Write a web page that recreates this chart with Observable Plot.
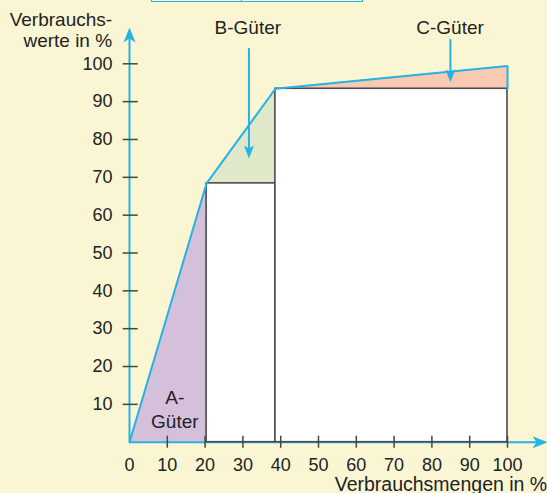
<!DOCTYPE html>
<html>
<head>
<meta charset="utf-8">
<script src="https://cdn.jsdelivr.net/npm/d3@7"></script>
<script src="https://cdn.jsdelivr.net/npm/@observablehq/plot@0.6"></script>
<style>
  html, body { margin: 0; padding: 0; background: #faf6d3; }
  #wrap { position: relative; width: 547px; height: 493px; overflow: hidden; background: #faf6d3; }
  #box { position: absolute; left: 151px; top: -8px; width: 210px; height: 8px; border: 1.5px solid #25b2e6; }
  #box div { position: absolute; left: 89px; top: 0; bottom: 0; border-left: 1.5px solid #25b2e6; }
</style>
</head>
<body>
<div id="wrap"><div id="box"><div></div></div></div>
<script>
// Cumulative ABC curve (Verbrauchsmengen %, Verbrauchswerte %)
const curveX = [0, 20.4, 38.6, 100];
const curveY = [0, 68.4, 93.4, 99.4];
// White bars (classes B and C bases)
const barX1 = [20.4, 38.6];
const barX2 = [38.6, 100];
const barTop = [68.4, 93.4];
const classNames = ["A-\nGüter", "B-Güter", "C-Güter"];
const classFill = ["#d5c0dc", "#dfe9c9", "#f9c9b1"];
const xTicks = [0, 10, 20, 30, 40, 50, 60, 70, 80, 90, 100];
const yTicks = [10, 20, 30, 40, 50, 60, 70, 80, 90, 100];
const xTitle = "Verbrauchsmengen in %";
const yTitle = "Verbrauchs-\nwerte in %";

const blue = "#25b2e6";
const ink = "#222";

// area segments between curve and the base below
const segs = [];
for (let i = 0; i < curveX.length - 1; i++) {
  const base = i === 0 ? 0 : barTop[i - 1];
  segs.push({cls: i, x: curveX[i], y1: base, y2: curveY[i]});
  segs.push({cls: i, x: curveX[i + 1], y1: base, y2: curveY[i + 1]});
}
const bars = barX1.map((d, i) => ({x1: d, x2: barX2[i], y1: 0, y2: barTop[i]}));
const linePts = curveX.map((d, i) => ({x: d, y: curveY[i]}));
linePts.push({x: curveX[curveX.length - 1], y: barTop[barTop.length - 1]});

function arrowSymbol(dir) {
  // tip at origin
  const pts = [[0, 0], [6, 15], [0, 11], [-6, 15]];
  const rot = {up: p => p, down: p => [p[0], -p[1]], right: p => [-p[1], p[0]]}[dir];
  return {
    draw(ctx) {
      const q = pts.map(rot);
      ctx.moveTo(q[0][0], q[0][1]);
      for (let k = 1; k < q.length; k++) ctx.lineTo(q[k][0], q[k][1]);
      ctx.closePath();
    }
  };
}
const smallArrow = dir => {
  const pts = [[0, 0], [5, 13], [0, 10], [-5, 13]];
  const rot = {up: p => p, down: p => [p[0], -p[1]]}[dir];
  return {draw(ctx) { const q = pts.map(rot); ctx.moveTo(q[0][0], q[0][1]); for (let k = 1; k < q.length; k++) ctx.lineTo(q[k][0], q[k][1]); ctx.closePath(); }};
};

const labelPos = [
  {x: 12.0, y: 8.9},
  {x: 31.3, y: 109.9},
  {x: 84.8, y: 109.9}
];
const pointers = [
  {x: 31.6, y1: 104, y2: 75},
  {x: 84.9, y1: 106.4, y2: 95.1}
];

const chart = Plot.plot({
  width: 547,
  height: 493,
  marginLeft: 129,
  marginRight: 40,
  marginTop: 63.3,
  marginBottom: 51.3,
  x: {domain: [0, 100]},
  y: {domain: [0, 100]},
  style: {background: "transparent", fontFamily: "'Liberation Sans', Arial, sans-serif", fontSize: "18px", color: ink, overflow: "visible"},
  marks: [
    Plot.areaY(segs, {x: "x", y1: "y1", y2: "y2", z: "cls", fill: d => classFill[d.cls], curve: "linear"}),
    // axis lines
    Plot.ruleY([0], {x1: 0, x2: 108, stroke: blue, strokeWidth: 2}),
    Plot.ruleX([0], {y1: 0, y2: 107, stroke: blue, strokeWidth: 2}),
    Plot.dot([{x: 110.6, y: 0}], {x: "x", y: "y", symbol: arrowSymbol("right"), fill: blue, stroke: null}),
    Plot.dot([{x: 0, y: 109.6}], {x: "x", y: "y", symbol: arrowSymbol("up"), fill: blue, stroke: null}),
    Plot.rect(bars, {x1: "x1", x2: "x2", y1: "y1", y2: "y2", fill: "white", stroke: "#4a4a4a", strokeWidth: 1.6}),
    Plot.line(linePts, {x: "x", y: "y", stroke: blue, strokeWidth: 2, strokeLinejoin: "miter"}),
    // pointers
    Plot.ruleX(pointers, {x: "x", y1: "y1", y2: d => d.y2 + 2, stroke: blue, strokeWidth: 2}),
    Plot.dot(pointers, {x: "x", y: "y2", symbol: smallArrow("down"), fill: blue, stroke: null}),
    // ticks
    Plot.axisX({ticks: yTicks, tickSize: 12, dy: -6, tickFormat: () => "", label: null, stroke: "#444", strokeWidth: 1.5}),
    Plot.axisX({ticks: xTicks, tickSize: 0, tickPadding: 16, tickFormat: d => String(d), label: null, fill: ink}),
    Plot.axisY({ticks: yTicks, tickSize: 15, dx: 8.7, tickFormat: () => "", label: null, stroke: "#444", strokeWidth: 1.5}),
    Plot.axisY({ticks: yTicks, tickSize: 0, tickPadding: 17, tickFormat: d => String(d), label: null, fill: ink}),
    // labels
    Plot.text(classNames, {x: (d, i) => labelPos[i].x, y: (d, i) => labelPos[i].y, text: d => d, fill: ink, fontSize: 19, lineHeight: 1.22, textAnchor: "middle"}),
    Plot.text([yTitle], {x: -4.6, y: 109, text: d => d, textAnchor: "end", fill: ink, fontSize: 19, lineHeight: 1.1}),
    Plot.text([xTitle], {x: 110.5, y: -11.2, text: d => d, textAnchor: "end", fill: ink, fontSize: 19.5})
  ]
});
document.getElementById("wrap").appendChild(chart);
</script>
</body>
</html>
